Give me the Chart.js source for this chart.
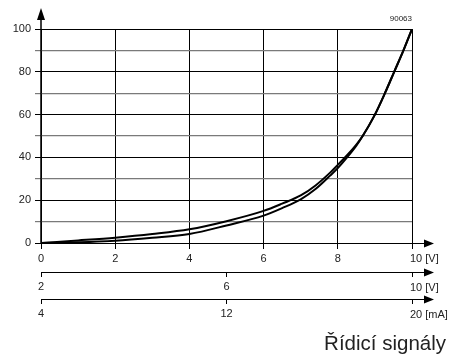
<!DOCTYPE html>
<html>
<head>
<meta charset="utf-8">
<script src="https://cdn.jsdelivr.net/npm/chart.js@4"></script>
<style>
  html, body { margin: 0; padding: 0; background: #fff; }
  #wrap { width: 452px; height: 356px; position: relative; }
</style>
</head>
<body>
<div id="wrap"><canvas id="c" width="452" height="356"></canvas></div>
<script>
// ---- data ----
const voltage = [0, 1, 2, 3, 4, 5, 6, 6.5, 7, 7.4, 7.8, 8, 8.25, 8.5, 8.67, 9, 9.27, 9.52, 9.77, 10];
const curveUpper = [0, 1.2, 2.5, 4.2, 6.4, 10.2, 15.0, 18.4, 22.2, 26.9, 33.0, 36.5, 41.0, 46, 50, 60, 70, 80, 90, 100];
const curveLower = [0, 0.3, 1.0, 2.4, 4.2, 8.2, 12.8, 16.3, 20.4, 25.2, 31.6, 35.0, 40.0, 45.5, 50, 60, 70, 80, 90, 100];
const yTicks = [0, 20, 40, 60, 80, 100];
const axis1Ticks = [0, 2, 4, 6, 8, 10];
const axis2Ticks = [2, 6, 10];
const axis3Ticks = [4, 12, 20];
const axis1Unit = '10 [V]';
const axis2Unit = '10 [V]';
const axis3Unit = '20 [mA]';
const axisTitle = 'Řídicí signály';
const figureCode = '90063';

const FONT = "'Liberation Sans', Arial, sans-serif";
const TXT = '#222';

const toPts = (xs, ys) => xs.map((x, i) => ({ x: x, y: ys[i] }));

const decor = {
  id: 'decor',
  afterDraw(chart) {
    const ctx = chart.ctx;
    const xs = chart.scales.x, x2 = chart.scales.x2, x3 = chart.scales.x3, ys = chart.scales.y;
    const left = xs.getPixelForValue(0);
    const tipX = xs.right + 22;
    ctx.save();
    ctx.strokeStyle = '#000';
    ctx.fillStyle = '#000';
    // y axis with arrow
    const yTop = ys.getPixelForValue(100);
    ctx.lineWidth = 1.5;
    ctx.beginPath();
    ctx.moveTo(left, ys.getPixelForValue(0));
    ctx.lineTo(left, yTop - 10);
    ctx.stroke();
    ctx.beginPath();
    ctx.moveTo(left, yTop - 21);
    ctx.lineTo(left - 4, yTop - 9);
    ctx.lineTo(left + 4, yTop - 9);
    ctx.closePath();
    ctx.fill();
    // horizontal axes with arrows
    const axisYs = [ys.getPixelForValue(0), x2.top, x3.top];
    axisYs.forEach(ay => {
      const yy = Math.round(ay) + 0.5;
      ctx.lineWidth = 1.2;
      ctx.beginPath();
      ctx.moveTo(left, yy);
      ctx.lineTo(tipX - 9, yy);
      ctx.stroke();
      ctx.beginPath();
      ctx.moveTo(tipX, yy);
      ctx.lineTo(tipX - 10, yy - 4);
      ctx.lineTo(tipX - 10, yy + 4);
      ctx.closePath();
      ctx.fill();
    });
    // end labels with units
    ctx.fillStyle = TXT;
    ctx.font = '11px ' + FONT;
    ctx.textAlign = 'left';
    ctx.textBaseline = 'middle';
    ctx.fillText(axis1Unit, xs.getPixelForValue(10) - 2, xs.top + 16);
    ctx.fillText(axis2Unit, x2.getPixelForValue(10) - 2, x2.top + 16);
    ctx.fillText(axis3Unit, x3.getPixelForValue(20) - 2, x3.top + 16);
    // title
    ctx.font = '20.5px ' + FONT;
    ctx.textAlign = 'right';
    ctx.textBaseline = 'alphabetic';
    ctx.fillText(axisTitle, 446, 350);
    // figure code
    ctx.font = '8px ' + FONT;
    ctx.fillText(figureCode, xs.right, yTop - 8);
    ctx.restore();
  }
};

const tickSetter = (vals) => (scale) => { scale.ticks = vals.map(v => ({ value: v })); };

new Chart(document.getElementById('c'), {
  type: 'line',
  data: {
    datasets: [
      { data: toPts(voltage, curveUpper), borderColor: '#000', borderWidth: 2, pointRadius: 0, cubicInterpolationMode: 'monotone', fill: false },
      { data: toPts(voltage, curveLower), borderColor: '#000', borderWidth: 2, pointRadius: 0, cubicInterpolationMode: 'monotone', fill: false }
    ]
  },
  options: {
    responsive: false,
    animation: false,
    devicePixelRatio: 1,
    layout: { padding: { left: 0, right: 40, top: 29, bottom: 27 } },
    plugins: { legend: { display: false }, tooltip: { enabled: false } },
    scales: {
      x: {
        type: 'linear', position: 'bottom', min: 0, max: 10, weight: 0,
        afterBuildTicks: tickSetter(axis1Ticks),
        afterFit: s => { s.height = 29; },
        grid: { color: '#000', lineWidth: 1, tickLength: 6, drawTicks: true },
        border: { display: false },
        ticks: { font: { family: FONT, size: 11 }, color: TXT, padding: 3, maxRotation: 0,
                 callback: v => v === 10 ? '' : String(v) }
      },
      x2: {
        type: 'linear', axis: 'x', position: 'bottom', min: 2, max: 10, weight: 1,
        afterBuildTicks: tickSetter(axis2Ticks),
        afterFit: s => { s.height = 27; },
        grid: { drawOnChartArea: false, color: '#000', lineWidth: 1, tickLength: 5 },
        border: { display: false },
        ticks: { font: { family: FONT, size: 11 }, color: TXT, padding: 3, maxRotation: 0,
                 callback: v => v === 10 ? '' : String(v) }
      },
      x3: {
        type: 'linear', axis: 'x', position: 'bottom', min: 4, max: 20, weight: 2,
        afterBuildTicks: tickSetter(axis3Ticks),
        afterFit: s => { s.height = 30; },
        grid: { drawOnChartArea: false, color: '#000', lineWidth: 1, tickLength: 5 },
        border: { display: false },
        ticks: { font: { family: FONT, size: 11 }, color: TXT, padding: 3, maxRotation: 0,
                 callback: v => v === 20 ? '' : String(v) }
      },
      y: {
        type: 'linear', position: 'left', min: 0, max: 100,
        ticks: { stepSize: 10, font: { family: FONT, size: 11 }, color: TXT, padding: 4,
                 callback: v => yTicks.includes(v) ? String(v) : '' },
        afterFit: s => { s.width = 41; },
        grid: {
          color: c => (c.tick && c.tick.value % 20 === 0) ? '#000' : '#7a7a7a',
          lineWidth: c => (c.tick && c.tick.value % 20 === 0) ? 1 : 1.2,
          tickLength: 6
        },
        border: { display: false }
      }
    }
  },
  plugins: [decor]
});
</script>
</body>
</html>
